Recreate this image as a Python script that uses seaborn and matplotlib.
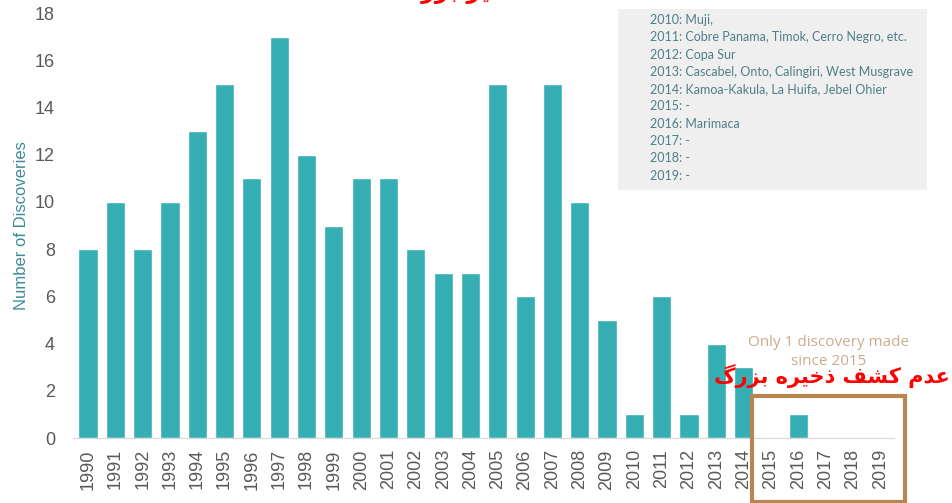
import matplotlib
matplotlib.use("Agg")
import matplotlib.pyplot as plt
import matplotlib.patches as patches
import seaborn as sns
import pandas as pd
import numpy as np

# data
years = [str(y) for y in range(1990, 2020)]
discoveries = [8, 10, 8, 10, 13, 15, 11, 17, 12, 9,
               11, 11, 8, 7, 7, 15, 6, 15, 10, 5,
               1, 6, 1, 4, 3, 0, 1, 0, 0, 0]
notes = ["2010: Muji,",
         "2011: Cobre Panama, Timok, Cerro Negro, etc.",
         "2012: Copa Sur",
         "2013: Cascabel, Onto, Calingiri, West Musgrave",
         "2014: Kamoa-Kakula, La Huifa, Jebel Ohier",
         "2015: -",
         "2016: Marimaca",
         "2017: -",
         "2018: -",
         "2019: -"]
persian_note = "عدم کشف ذخیره بزرگ"
persian_title = "کشف ذخایر بزرگ"

# tiny arabic shaper (matplotlib has no shaping/bidi)
FORMS = {  # isolated, final, initial, medial
    "ع": ("\uFEC9", "\uFECA", "\uFECB", "\uFECC"),
    "د": ("\uFEA9", "\uFEAA", None, None),
    "م": ("\uFEE1", "\uFEE2", "\uFEE3", "\uFEE4"),
    "ک": ("\uFB8E", "\uFB8F", "\uFB90", "\uFB91"),
    "ش": ("\uFEB5", "\uFEB6", "\uFEB7", "\uFEB8"),
    "ف": ("\uFED1", "\uFED2", "\uFED3", "\uFED4"),
    "ذ": ("\uFEAB", "\uFEAC", None, None),
    "خ": ("\uFEA5", "\uFEA6", "\uFEA7", "\uFEA8"),
    "ی": ("\uFBFC", "\uFBFD", "\uFBFE", "\uFBFF"),
    "ر": ("\uFEAD", "\uFEAE", None, None),
    "ه": ("\uFEE9", "\uFEEA", "\uFEEB", "\uFEEC"),
    "ب": ("\uFE8F", "\uFE90", "\uFE91", "\uFE92"),
    "ز": ("\uFEAF", "\uFEB0", None, None),
    "گ": ("\uFB92", "\uFB93", "\uFB94", "\uFB95"),
    "ا": ("\uFE8D", "\uFE8E", None, None),
}


def shape(text):
    out = []
    for i, ch in enumerate(text):
        if ch not in FORMS:
            out.append(ch)
            continue
        prev = text[i - 1] if i > 0 else ""
        nxt = text[i + 1] if i < len(text) - 1 else ""
        join_prev = prev in FORMS and FORMS[prev][2] is not None
        join_next = nxt in FORMS and FORMS[ch][2] is not None
        f = FORMS[ch]
        if join_prev and join_next:
            out.append(f[3])
        elif join_prev:
            out.append(f[1])
        elif join_next:
            out.append(f[2])
        else:
            out.append(f[0])
    return "".join(out)[::-1]


df = pd.DataFrame({"Year": years, "Discoveries": discoveries})

sns.set_style("white")
plt.rcParams["font.family"] = ["Liberation Sans", "DejaVu Sans"]

fig = plt.figure(figsize=(9.53, 5.03), dpi=100)
ax = fig.add_axes([0.078, 0.129, 0.86, 0.845])

sns.barplot(data=df, x="Year", y="Discoveries", color="#35AEB4",
            saturation=1, width=0.7, ax=ax)

ax.set_ylim(0, 18)
ax.set_xlim(-0.5, len(years) - 0.5)
ax.set_yticks(range(0, 19, 2))
ax.tick_params(axis="y", length=0, labelsize=13, labelcolor="#595959", pad=14)
ax.tick_params(axis="x", length=0, labelsize=13, labelcolor="#595959",
               labelrotation=90, pad=8)
ax.set_xticks(np.arange(-0.5, len(years), 1), minor=True)
ax.tick_params(axis="x", which="minor", length=4, color="#D9D9D9")
ax.set_xlabel("")
ax.set_ylabel("Number of Discoveries", fontsize=12, color="#3E8C98", labelpad=4)
for s in ["top", "right", "left"]:
    ax.spines[s].set_visible(False)
ax.spines["bottom"].set_color("#D9D9D9")

# notes box
fig.patches.append(patches.Rectangle((618 / 953, 1 - 190 / 503), 309 / 953, 181 / 503,
                                     transform=fig.transFigure, facecolor="#EFEFEF",
                                     edgecolor="none", zorder=0))
for i, line in enumerate(notes):
    fig.text(650 / 953, 1 - (20 + i * 17.3) / 503, line, fontsize=9,
             color="#4E7F88", va="center", family=["Lato", "DejaVu Sans"])

fig.text(829 / 953, 1 - 352 / 503, "Only 1 discovery made\nsince 2015",
         fontsize=11, color="#C9AC8E", ha="center", va="center",
         linespacing=1.3, family=["Open Sans", "DejaVu Sans"])

# highlight box
fig.patches.append(patches.Rectangle((752 / 953, 1 - 502 / 503), 153 / 953, 106 / 503,
                                     transform=fig.transFigure, facecolor="none",
                                     edgecolor="#B8874F", linewidth=3, zorder=5))

fig.text(832 / 953, 1 - 376 / 503, shape(persian_note), fontsize=15,
         fontweight="bold", color="red", ha="center", va="center",
         family=["DejaVu Sans"])
fig.text(500 / 953, 1 + 2 / 503, shape(persian_title), fontsize=17,
         fontweight="bold", color="red", ha="center", va="baseline",
         family=["DejaVu Sans"])

fig.savefig("out.png", dpi=100)
